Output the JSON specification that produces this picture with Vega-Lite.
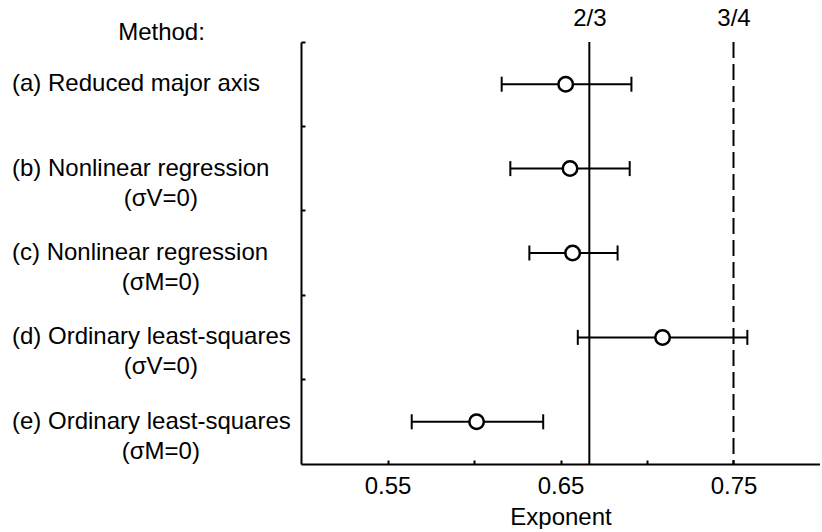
{
  "$schema": "https://vega.github.io/schema/vega-lite/v6.json",
  "padding": {"left": 12, "top": 6, "right": 0, "bottom": 0},
  "config": {"font": "Liberation Sans", "view": {"stroke": null}},
  "spacing": 0,
  "bounds": "flush",
  "datasets": {
    "rows": [
      {"method": "a", "line1": "(a) Reduced major axis", "line2": "", "est": 0.653, "lo": 0.616, "hi": 0.691},
      {"method": "b", "line1": "(b) Nonlinear regression", "line2": "(σV=0)", "est": 0.6555, "lo": 0.621, "hi": 0.690},
      {"method": "c", "line1": "(c) Nonlinear regression", "line2": "(σM=0)", "est": 0.657, "lo": 0.632, "hi": 0.683},
      {"method": "d", "line1": "(d) Ordinary least-squares", "line2": "(σV=0)", "est": 0.709, "lo": 0.660, "hi": 0.758},
      {"method": "e", "line1": "(e) Ordinary least-squares", "line2": "(σM=0)", "est": 0.6015, "lo": 0.564, "hi": 0.640}
    ],
    "refs": [
      {"v": 0.666667, "label": "2/3"},
      {"v": 0.75, "label": "3/4"}
    ]
  },
  "hconcat": [
    {
      "width": 289,
      "height": 422,
      "data": {"name": "rows"},
      "title": {"text": "Method:", "fontSize": 24, "fontWeight": "normal", "anchor": "middle", "dx": 5, "offset": -3, "color": "black"},
      "layer": [
        {
          "mark": {"type": "text", "align": "left", "baseline": "middle", "fontSize": 24, "color": "black"},
          "encoding": {
            "x": {"datum": 0, "type": "quantitative", "scale": {"domain": [0, 1]}, "axis": null},
            "y": {"field": "method", "type": "nominal", "sort": null, "scale": {"type": "band", "paddingInner": 0, "paddingOuter": 0}, "axis": null},
            "text": {"field": "line1"}
          }
        },
        {
          "mark": {"type": "text", "align": "center", "baseline": "middle", "fontSize": 24, "dy": 30, "color": "black"},
          "encoding": {
            "x": {"datum": 0.515, "type": "quantitative", "scale": {"domain": [0, 1]}, "axis": null},
            "y": {"field": "method", "type": "nominal", "sort": null, "scale": {"type": "band", "paddingInner": 0, "paddingOuter": 0}, "axis": null},
            "text": {"field": "line2"}
          }
        }
      ]
    },
    {
      "width": 519,
      "height": 422,
      "data": {"name": "rows"},
      "resolve": {"axis": {"x": "independent"}},
      "layer": [
        {
          "data": {"name": "refs"},
          "mark": {"type": "rule", "strokeWidth": 2, "color": "black"},
          "encoding": {
            "x": {"field": "v", "type": "quantitative", "scale": {"domain": [0.5, 0.8], "nice": false, "zero": false},
              "axis": {"orient": "top", "values": [0.666667, 0.75], "labelExpr": "datum.value > 0.7 ? '3/4' : '2/3'", "domain": false, "ticks": false, "grid": false, "labelFontSize": 24, "labelPadding": 12, "labelColor": "black", "title": null}},
            "strokeDash": {"field": "label", "type": "nominal", "scale": {"domain": ["2/3", "3/4"], "range": [[1, 0], [16, 6]]}, "legend": null}
          }
        },
        {
          "mark": {"type": "rule", "strokeWidth": 2, "color": "black"},
          "encoding": {
            "x": {"field": "lo", "type": "quantitative", "scale": {"domain": [0.5, 0.8], "nice": false, "zero": false},
              "axis": {"orient": "bottom", "values": [0.55, 0.6, 0.65, 0.7, 0.75],
                "labelExpr": "(format(datum.value, '.2f') == '0.55' || format(datum.value, '.2f') == '0.65' || format(datum.value, '.2f') == '0.75') ? format(datum.value, '.2f') : ''",
                "tickSize": -4, "tickWidth": 2, "tickColor": "black", "domainWidth": 2, "domainColor": "black", "grid": false,
                "labelFontSize": 24, "labelPadding": 14, "labelColor": "black",
                "title": "Exponent", "titleFontSize": 24, "titleFontWeight": "normal", "titleColor": "black", "titlePadding": 7}},
            "x2": {"field": "hi"},
            "y": {"field": "method", "type": "nominal", "sort": null, "scale": {"type": "band", "paddingInner": 0, "paddingOuter": 0},
              "axis": {"labels": false, "title": null, "tickSize": -4, "tickWidth": 2, "tickColor": "black", "domainWidth": 2, "domainColor": "black", "bandPosition": 0, "grid": false}}
          }
        },
        {
          "mark": {"type": "tick", "thickness": 2, "size": 15, "color": "black", "opacity": 1},
          "encoding": {
            "x": {"field": "lo", "type": "quantitative", "axis": null},
            "y": {"field": "method", "type": "nominal", "sort": null, "scale": {"type": "band", "paddingInner": 0, "paddingOuter": 0},
              "axis": {"labels": false, "title": null, "tickSize": -4, "tickWidth": 2, "tickColor": "black", "domainWidth": 2, "domainColor": "black", "bandPosition": 0, "grid": false}}
          }
        },
        {
          "mark": {"type": "tick", "thickness": 2, "size": 15, "color": "black", "opacity": 1},
          "encoding": {
            "x": {"field": "hi", "type": "quantitative", "axis": null},
            "y": {"field": "method", "type": "nominal", "sort": null, "scale": {"type": "band", "paddingInner": 0, "paddingOuter": 0},
              "axis": {"labels": false, "title": null, "tickSize": -4, "tickWidth": 2, "tickColor": "black", "domainWidth": 2, "domainColor": "black", "bandPosition": 0, "grid": false}}
          }
        },
        {
          "mark": {"type": "point", "shape": "circle", "size": 210, "filled": true, "fill": "white", "stroke": "black", "strokeWidth": 2.5, "opacity": 1},
          "encoding": {
            "x": {"field": "est", "type": "quantitative", "axis": null},
            "y": {"field": "method", "type": "nominal", "sort": null, "scale": {"type": "band", "paddingInner": 0, "paddingOuter": 0},
              "axis": {"labels": false, "title": null, "tickSize": -4, "tickWidth": 2, "tickColor": "black", "domainWidth": 2, "domainColor": "black", "bandPosition": 0, "grid": false}}
          }
        }
      ]
    }
  ]
}
